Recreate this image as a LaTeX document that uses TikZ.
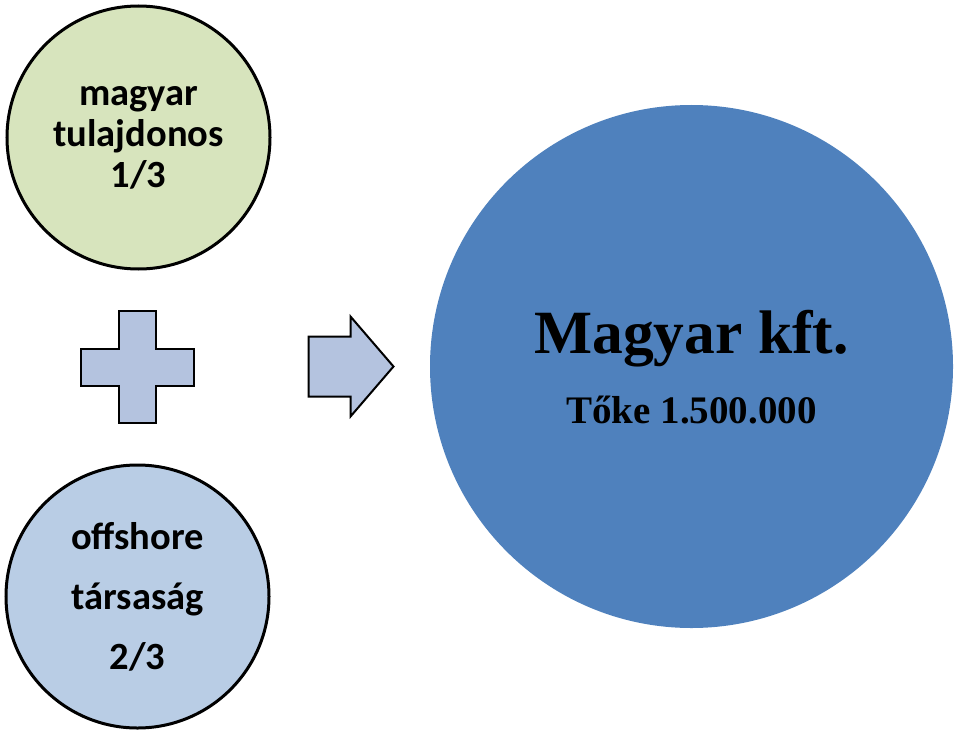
\documentclass[tikz,border=0pt]{standalone}
\usepackage{fontspec}
\setmainfont{Liberation Serif}
\newfontfamily\calibri{Carlito}
\usetikzlibrary{positioning}
\definecolor{ownergreen}{HTML}{D7E4BD}
\definecolor{ownerblue}{HTML}{B9CDE5}
\definecolor{signblue}{HTML}{B4C3DF}
\definecolor{firmblue}{HTML}{4F81BD}

\begin{document}
\begin{tikzpicture}[x=1pt, y=-1pt,
  owner/.style={circle, draw=black, line width=3pt, minimum size=263pt,
    inner sep=0pt, align=center, font=\calibri\bfseries\fontsize{38.5}{41}\selectfont},
  sign/.style={draw=black, line width=2pt, fill=signblue},
  firmtext/.style={anchor=base, inner sep=0pt, font=\bfseries}]
  \useasboundingbox (0,0) rectangle (960,733);
  % owners
  \node[owner, fill=ownergreen] (hu) at (138.5,137.5) {magyar\\tulajdonos\\1/3};
  \node[owner, fill=ownerblue, font=\calibri\bfseries\fontsize{38.5}{60}\selectfont]
    (off) at (137.5,596.5) {offshore\\társaság\\2/3};
  % the company
  \node[circle, fill=firmblue, minimum size=523pt, inner sep=0pt] (kft) at (691.5,366.5) {};
  \node[firmtext, font=\bfseries\fontsize{61.5}{62}\selectfont, yshift=13pt] (name) at (kft.center) {Magyar kft.};
  \node[firmtext, font=\bfseries\fontsize{39}{40}\selectfont, yshift=-57pt] (cap) at (kft.center) {Tőke 1.500.000};
  % plus and arrow
  \draw[sign] (81,348.5) -- (119,348.5) -- (119,310.5) -- (156,310.5) -- (156,348.5)
    -- (194,348.5) -- (194,385.5) -- (156,385.5) -- (156,423) -- (119,423)
    -- (119,385.5) -- (81,385.5) -- cycle;
  \draw[sign] (308.5,336.5) -- (350.5,336.5) -- (350.5,316.5) -- (393.5,366.5)
    -- (350.5,416.5) -- (350.5,396.5) -- (308.5,396.5) -- cycle;
\end{tikzpicture}
\end{document}
